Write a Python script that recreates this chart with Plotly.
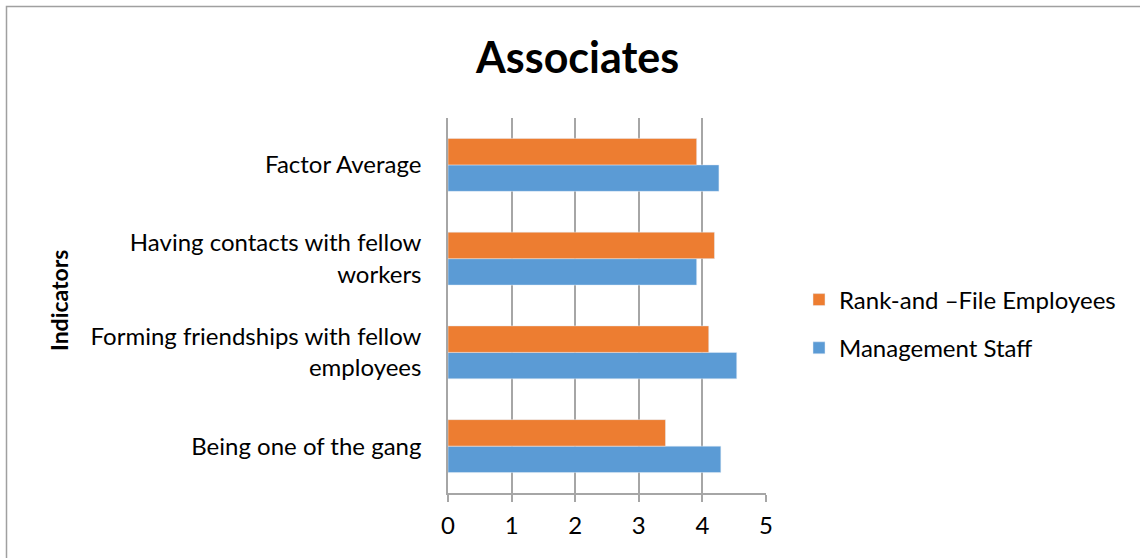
import plotly.graph_objects as go

categories = ["Being one of the gang", "Forming friendships with fellow<br>employees",
              "Having contacts with fellow<br>workers", "Factor Average"]
management = [4.29, 4.54, 3.91, 4.26]
rank_file = [3.42, 4.10, 4.19, 3.91]
x_ticks = [0, 1, 2, 3, 4, 5]

W, H = 1140, 558
L, R, T, B = 448, 766, 118, 493
pw, ph = R - L, B - T

FONT = "Lato"

fig = go.Figure()
fig.add_trace(go.Bar(y=categories, x=management, orientation="h", name="Management Staff",
                     marker=dict(color="#5B9BD5"), legendgroup="m", legendrank=2))
fig.add_trace(go.Bar(y=categories, x=rank_file, orientation="h", name="Rank-and –File Employees",
                     marker=dict(color="#ED7D31"), legendgroup="r", legendrank=1))

def px2x(p):
    return (p - L) / pw

def px2y(p):
    return (B - p) / ph

fig.update_layout(
    width=W, height=H,
    margin=dict(l=L, r=W - R, t=T, b=H - B, pad=0),
    paper_bgcolor="white", plot_bgcolor="white",
    barmode="group", bargap=0.435, bargroupgap=0,
    font=dict(family=FONT, size=24, color="#000000"),
    showlegend=True,
    legend=dict(x=px2x(799), y=px2y(324), xanchor="left", yanchor="middle",
                traceorder="grouped", font=dict(size=24), itemwidth=30,
                tracegroupgap=14, bgcolor="rgba(0,0,0,0)"),
    xaxis=dict(range=[0, 5], tickvals=x_ticks, showgrid=True, gridcolor="#A6A6A6",
               gridwidth=1.5, showline=True, linecolor="#A6A6A6", linewidth=1.5,
               ticks="outside", ticklen=7, tickcolor="#A6A6A6", tickwidth=1.5,
               ticklabelstandoff=3,
               zeroline=False, fixedrange=True, tickfont=dict(size=24)),
    yaxis=dict(categoryorder="array", categoryarray=categories, showline=True,
               linecolor="#A6A6A6", linewidth=1.5, showgrid=False, ticks="",
               ticklabelstandoff=20, tickfont=dict(size=24), automargin=False),
    annotations=[
        dict(text="<b>Associates</b>", x=px2x(577), y=px2y(57), xref="paper", yref="paper",
             showarrow=False, font=dict(size=43), xanchor="center", yanchor="middle"),
        dict(text="<b>Indicators</b>", x=px2x(59), y=px2y(301), xref="paper", yref="paper",
             showarrow=False, textangle=-90, font=dict(size=23), xanchor="center",
             yanchor="middle"),
    ],
    shapes=[
        dict(type="rect", xref="paper", yref="paper", x0=px2x(6.5), y0=px2y(H + 5),
             x1=px2x(W + 5), y1=px2y(6.5), line=dict(color="#A0A0A0", width=1.5),
             fillcolor="rgba(0,0,0,0)", layer="below"),
    ],
)

fig.write_html("out.html")
